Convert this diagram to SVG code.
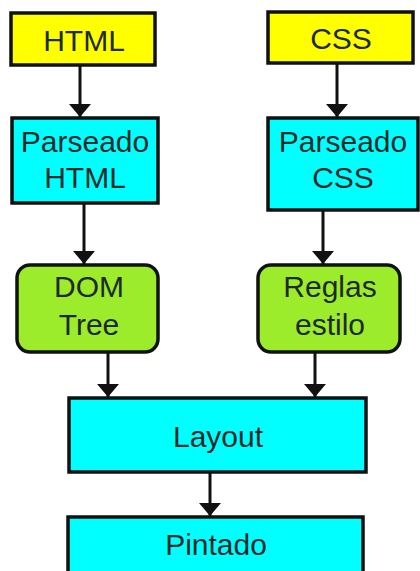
<svg xmlns="http://www.w3.org/2000/svg" width="420" height="571" viewBox="0 0 420 571">
<defs>
<style>
.box{stroke:#111;stroke-width:3.5}
.y{fill:#FFFF00}
.c{fill:#00FFFF}
.g{fill:#9CEC2C}
.t{font-family:"Liberation Sans",Arial,sans-serif;font-size:30px;fill:#1c2a2a;text-anchor:middle}
.e{stroke:#111;stroke-width:3;fill:none;marker-end:url(#ah)}
</style>
<marker id="ah" markerUnits="userSpaceOnUse" markerWidth="14" markerHeight="24" refX="14" refY="12" orient="auto" viewBox="0 0 14 24">
<path d="M1,1 L14,12 L1,23 Z" fill="#111"/>
</marker>
</defs>
<rect width="420" height="571" fill="#fff"/>
<g id="connectors">
<path class="e" d="M80,66 V117"/>
<path class="e" d="M84,204 V264"/>
<path class="e" d="M337,64 V117"/>
<path class="e" d="M323,211 V264"/>
<path class="e" d="M108,353 V397"/>
<path class="e" d="M315,353 V397"/>
<path class="e" d="M210,473 V516"/>
</g>
<g id="html">
<rect class="box y" x="11" y="13" width="144" height="52"/>
<text class="t" x="84" y="51">HTML</text>
</g>
<g id="css">
<rect class="box y" x="268" y="12" width="145" height="51"/>
<text class="t" x="341" y="49">CSS</text>
</g>
<g id="parseado-html">
<rect class="box c" x="12" y="118" width="146" height="85"/>
<text class="t" x="85" y="152">Parseado</text>
<text class="t" x="85" y="188">HTML</text>
</g>
<g id="parseado-css">
<rect class="box c" x="268" y="118" width="150" height="92"/>
<text class="t" x="343" y="152">Parseado</text>
<text class="t" x="343" y="188">CSS</text>
</g>
<g id="dom-tree">
<rect class="box g" x="17" y="265" width="141" height="87" rx="13"/>
<text class="t" x="89" y="297">DOM</text>
<text class="t" x="89" y="335">Tree</text>
</g>
<g id="reglas-estilo">
<rect class="box g" x="258" y="265" width="142" height="87" rx="13"/>
<text class="t" x="330" y="297">Reglas</text>
<text class="t" x="330" y="335">estilo</text>
</g>
<g id="layout">
<rect class="box c" x="69" y="398" width="297" height="74"/>
<text class="t" x="218" y="447">Layout</text>
</g>
<g id="pintado">
<rect class="box c" x="68" y="517" width="295" height="60"/>
<text class="t" x="216" y="555">Pintado</text>
</g>
</svg>
